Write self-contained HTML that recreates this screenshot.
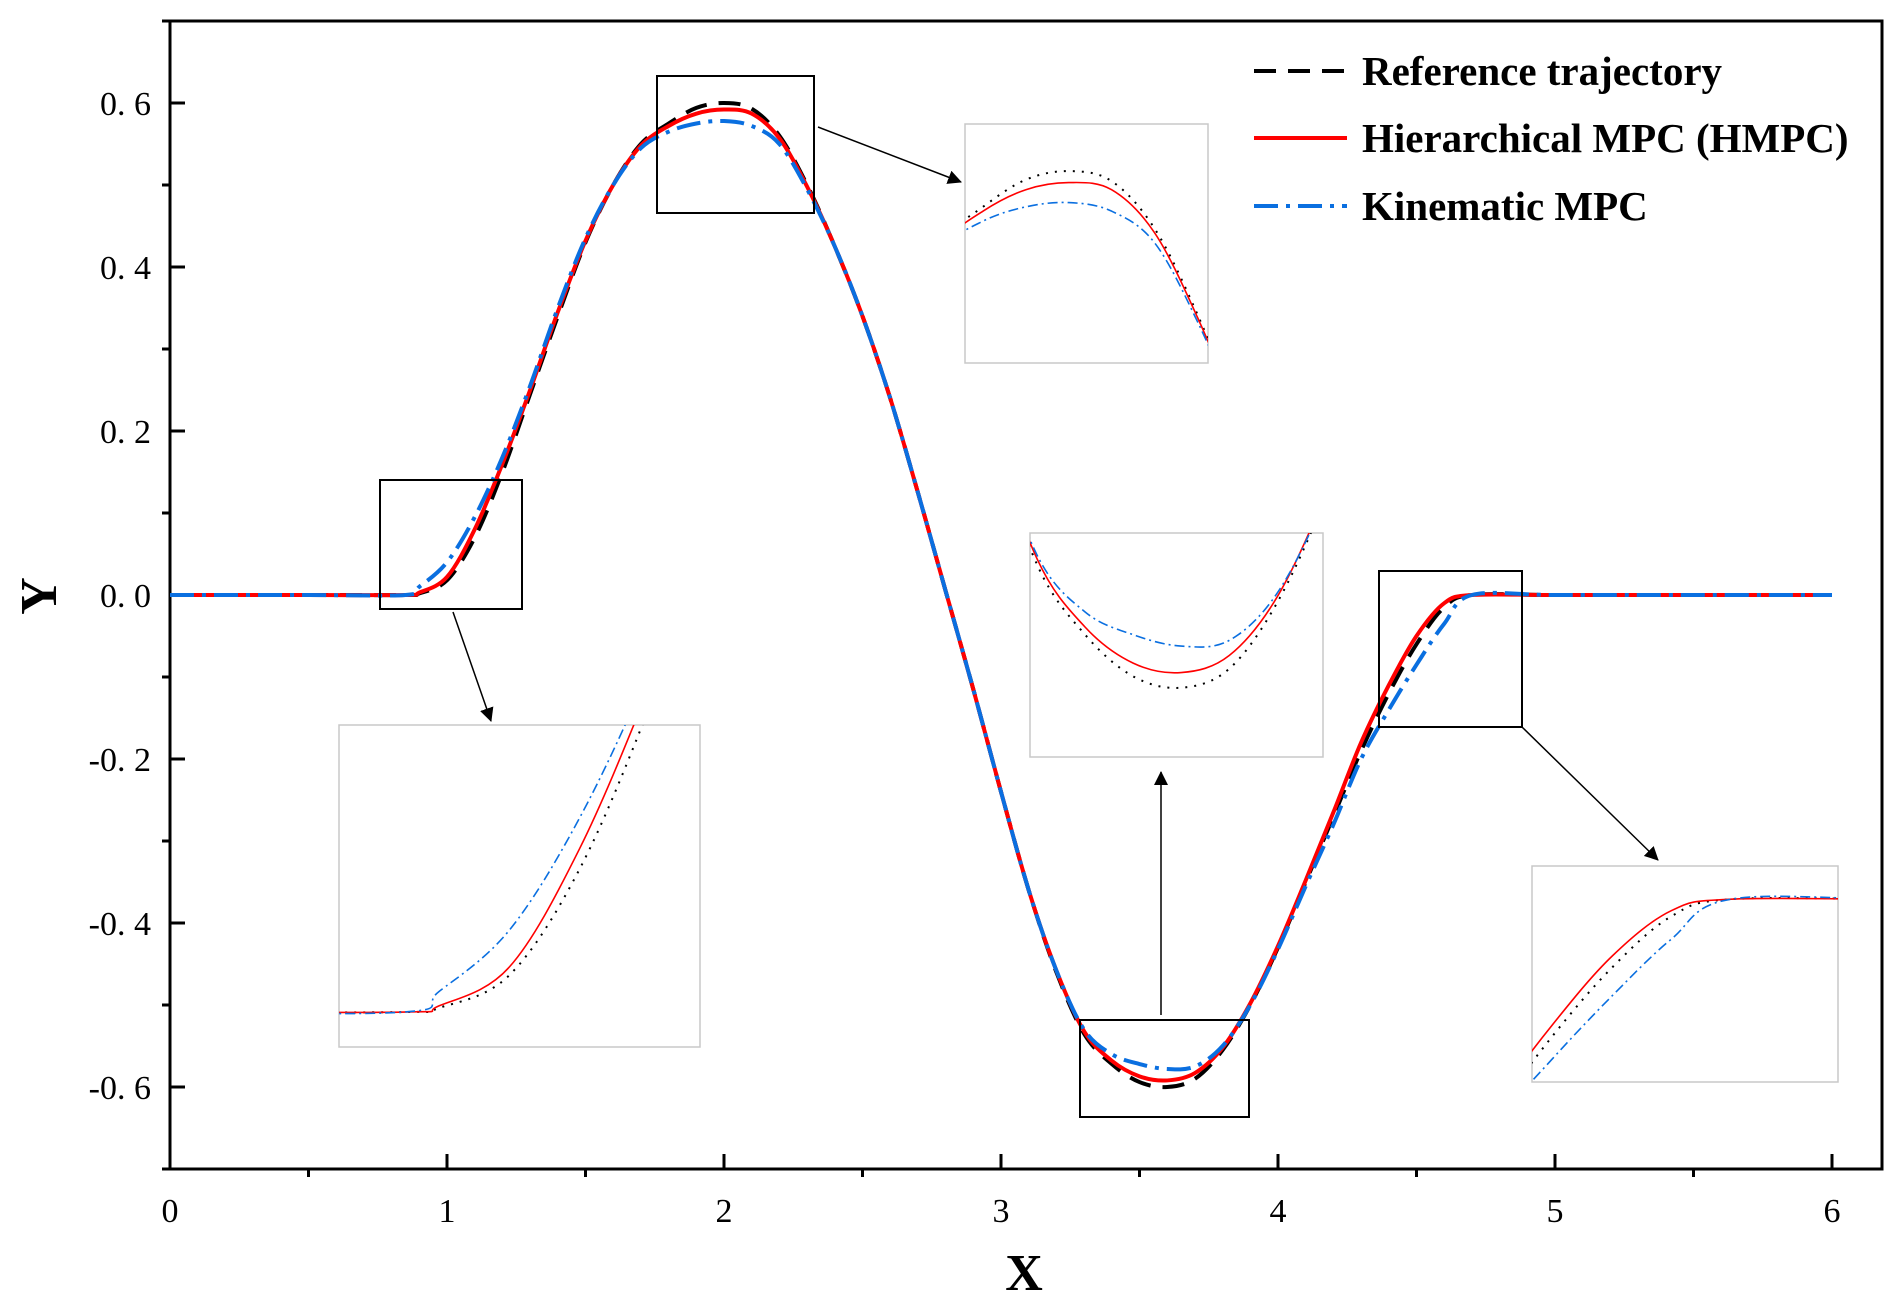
<!DOCTYPE html>
<html><head><meta charset="utf-8"><style>
html,body{margin:0;padding:0;background:#fff;width:1900px;height:1303px;overflow:hidden;}
svg{display:block;}
text{font-family:"Liberation Serif",serif;fill:#000;}
</style></head><body>
<svg id="chart" width="1900" height="1303" viewBox="0 0 1900 1303" xmlns="http://www.w3.org/2000/svg">
<defs>
<marker id="arr" markerWidth="14" markerHeight="14" refX="13" refY="7" orient="auto" markerUnits="userSpaceOnUse" viewBox="0 0 14 14"><path d="M0,0 L14,7 L0,14 z" fill="#000"/></marker>
</defs>
<rect x="0" y="0" width="1900" height="1303" fill="#fff"/>
<g id="axes"></g>
<g id="main"></g>
<g id="insets"></g>
<g id="legend">
  <line x1="1254" y1="71" x2="1347" y2="71" stroke="#000" stroke-width="4" stroke-dasharray="22,12"/>
  <text x="1362" y="85" font-size="41" font-weight="bold">Reference trajectory</text>
  <line x1="1254" y1="138" x2="1347" y2="138" stroke="#f00" stroke-width="4"/>
  <text x="1362" y="152" font-size="41" font-weight="bold">Hierarchical MPC (HMPC)</text>
  <line x1="1254" y1="206" x2="1347" y2="206" stroke="#0a6fe0" stroke-width="4" stroke-dasharray="24,8,4,8"/>
  <text x="1362" y="220" font-size="41" font-weight="bold">Kinematic MPC</text>
</g>
<text x="40" y="612" font-size="52" font-weight="bold" text-anchor="middle" transform="rotate(-90 40 596)">Y</text>
<text x="1024" y="1290" font-size="52" font-weight="bold" text-anchor="middle">X</text>
</svg>
<script>
const xs = [0,0.5,0.85,0.9,1.0,1.1,1.2,1.3,1.4,1.5,1.6,1.7,1.8,1.9,2.0,2.1,2.2,2.3,2.4,2.5,2.6,2.7,2.8,2.9,3.0,3.1,3.2,3.3,3.4,3.5,3.6,3.7,3.8,3.9,4.0,4.1,4.2,4.3,4.4,4.5,4.6,4.7,5.0,5.5,6.0];
const refY = [0,0,0,0.002,0.018,0.07,0.15,0.245,0.34,0.43,0.5,0.55,0.575,0.594,0.600,0.593,0.56,0.5,0.425,0.34,0.24,0.125,0.005,-0.115,-0.24,-0.36,-0.46,-0.535,-0.572,-0.594,-0.6,-0.59,-0.555,-0.5,-0.43,-0.35,-0.27,-0.19,-0.12,-0.06,-0.015,0,0,0,0];
const hmpcY = [0,0,0,0.003,0.022,0.08,0.16,0.25,0.345,0.432,0.5,0.548,0.572,0.587,0.592,0.587,0.557,0.498,0.425,0.34,0.24,0.125,0.005,-0.115,-0.24,-0.36,-0.458,-0.532,-0.568,-0.587,-0.592,-0.583,-0.552,-0.498,-0.428,-0.348,-0.265,-0.18,-0.11,-0.05,-0.01,0,0,0,0];
const kinY = [0,0,0,0.01,0.04,0.095,0.168,0.255,0.35,0.435,0.5,0.545,0.565,0.575,0.578,0.572,0.55,0.495,0.425,0.34,0.24,0.125,0.005,-0.115,-0.24,-0.36,-0.458,-0.53,-0.56,-0.572,-0.578,-0.575,-0.55,-0.5,-0.432,-0.355,-0.28,-0.2,-0.14,-0.085,-0.035,0,0,0,0];
const xTicks = [0,1,2,3,4,5,6];
const yTicks = [-0.6,-0.4,-0.2,0.0,0.2,0.4,0.6];
const yTickLabels = ["-0. 6","-0. 4","-0. 2","0. 0","0. 2","0. 4","0. 6"];

const NS="http://www.w3.org/2000/svg";
const L=170,R=1882,T=21,B=1169;
const sx=v=>170+v*277;
const sy=v=>595-v*820;
function mk(tag,attrs,parent){const e=document.createElementNS(NS,tag);for(const k in attrs)e.setAttribute(k,attrs[k]);parent.appendChild(e);return e;}
function pathD(fx,fy,X,Y){
  const p=X.map((x,i)=>[fx(x),fy(Y[i])]);
  let d="M"+p[0][0]+","+p[0][1];
  for(let i=0;i<p.length-1;i++){
    const p0=p[Math.max(i-1,0)],p1=p[i],p2=p[i+1],p3=p[Math.min(i+2,p.length-1)];
    const c1=[p1[0]+(p2[0]-p0[0])/6,p1[1]+(p2[1]-p0[1])/6];
    const c2=[p2[0]-(p3[0]-p1[0])/6,p2[1]-(p3[1]-p1[1])/6];
    d+=" C"+c1[0]+","+c1[1]+" "+c2[0]+","+c2[1]+" "+p2[0]+","+p2[1];
  }
  return d;
}
const ax=document.getElementById('axes');
const frame=mk('rect',{x:L,y:T,width:R-L,height:B-T,fill:'none',stroke:'#000','stroke-width':3},ax);


xTicks.forEach(v=>{
  const t=mk('line',{x1:sx(v),x2:sx(v),y1:B,y2:B-15,stroke:'#000','stroke-width':3},ax);
  
  
  const lb=mk('text',{x:sx(v),y:1222,'font-size':34,'text-anchor':'middle'},ax);
  lb.textContent=String(v);
  
  
  if(v<6){const m=mk('line',{x1:sx(v+0.5),x2:sx(v+0.5),y1:B,y2:B+8,stroke:'#000','stroke-width':3},ax);
  
  }
});
yTicks.forEach((v,i)=>{
  const t=mk('line',{x1:L,x2:L+15,y1:sy(v),y2:sy(v),stroke:'#000','stroke-width':3},ax);
  
  
  const lb=mk('text',{x:151,y:sy(v)+12,'font-size':34,'text-anchor':'end'},ax);
  lb.textContent=yTickLabels[i];
  
  
});
[-0.7,-0.5,-0.3,-0.1,0.1,0.3,0.5,0.7].forEach(v=>{
  const m=mk('line',{x1:L,x2:L-8,y1:sy(v),y2:sy(v),stroke:'#000','stroke-width':3},ax);
  
  
});
const main=document.getElementById('main');
const s1=mk('path',{d:pathD(sx,sy,xs,refY),fill:'none',stroke:'#000','stroke-width':4,'stroke-dasharray':'22,12'},main);


const s2=mk('path',{d:pathD(sx,sy,xs,hmpcY),fill:'none',stroke:'#f00','stroke-width':4},main);


const s3=mk('path',{d:pathD(sx,sy,xs,kinY),fill:'none',stroke:'#0a6fe0','stroke-width':4,'stroke-dasharray':'24,8,4,8'},main);



const ins=document.getElementById('insets');
const insetDefs=[
 {box:[380,480,522,609],panel:[339,725,700,1047],arrow:[453,612,491,721]},
 {box:[657,76,814,213],panel:[965,124,1208,363],arrow:[818,127,961,182]},
 {box:[1080,1020,1249,1117],panel:[1030,533,1323,757],arrow:[1161,1015,1161,772]},
 {box:[1379,571,1522,727],panel:[1532,866,1838,1082],arrow:[1522,727,1658,860]}
];
insetDefs.forEach((d,k)=>{
  const [bx0,by0,bx1,by1]=d.box,[px0,py0,px1,py1]=d.panel;
  const b=mk('rect',{x:bx0,y:by0,width:bx1-bx0,height:by1-by0,fill:'none',stroke:'#000','stroke-width':2},ins);
  
  
  const a=mk('line',{x1:d.arrow[0],y1:d.arrow[1],x2:d.arrow[2],y2:d.arrow[3],stroke:'#000','stroke-width':1.5,'marker-end':'url(#arr)'},ins);
  
  
  const g=mk('g',{},ins);
  
  
  mk('rect',{x:px0,y:py0,width:px1-px0,height:py1-py0,fill:'#fff',stroke:'#c8c8c8','stroke-width':1.5},g);
  const cp=mk('clipPath',{id:'clip'+k},g);
  mk('rect',{x:px0,y:py0,width:px1-px0,height:py1-py0},cp);
  const dx0=(bx0-170)/277,dx1=(bx1-170)/277,dy1=(595-by0)/820,dy0=(595-by1)/820;
  const fx=v=>px0+(v-dx0)/(dx1-dx0)*(px1-px0);
  const fy=v=>py1-(v-dy0)/(dy1-dy0)*(py1-py0);
  const cg=mk('g',{'clip-path':'url(#clip'+k+')'},g);
  const r=mk('path',{d:pathD(fx,fy,xs,refY),fill:'none',stroke:'#000','stroke-width':2,'stroke-dasharray':'2,7'},cg);
  
  
  const h=mk('path',{d:pathD(fx,fy,xs,hmpcY),fill:'none',stroke:'#f00','stroke-width':1.6},cg);
  
  
  const kk=mk('path',{d:pathD(fx,fy,xs,kinY),fill:'none',stroke:'#0a6fe0','stroke-width':1.6,'stroke-dasharray':'10,4,2,4'},cg);
  
  
});
</script>
</body></html>
